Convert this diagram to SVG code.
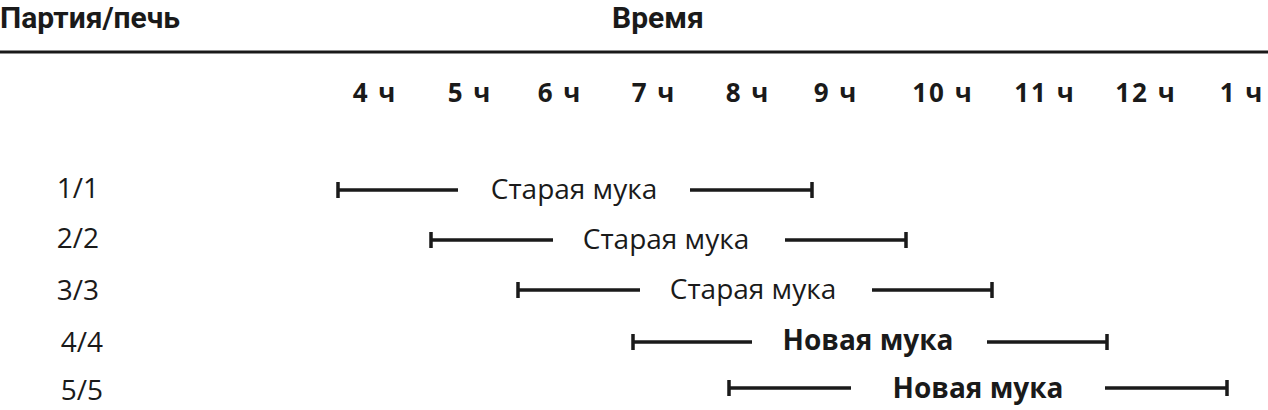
<svg xmlns="http://www.w3.org/2000/svg" width="1268" height="410" viewBox="0 0 1268 410">
<style>
text{font-family:"Open Sans","Noto Sans",sans-serif;fill:#1a1a1a}
.h{font-family:Roboto,"Liberation Sans",sans-serif;font-weight:bold;font-size:30px}
.t{font-weight:bold;font-size:26px;text-anchor:middle;letter-spacing:2px}
.r{font-size:28px;text-anchor:middle}
.l{font-size:28px;text-anchor:middle}
.b{font-size:28px;text-anchor:middle;font-weight:bold}
.bar{stroke:#1a1a1a;stroke-width:3.5;fill:none}
</style>
<rect width="1268" height="410" fill="#fff"/>
<text class="h" x="0" y="28">Партия/печь</text>
<text class="h" x="658" y="28" text-anchor="middle">Время</text>
<line x1="0" y1="52" x2="1268" y2="52" stroke="#1a1a1a" stroke-width="3"/>
<g id="hours">
<text class="t" x="375" y="102">4 ч</text><text class="t" x="470" y="102">5 ч</text><text class="t" x="560" y="102">6 ч</text><text class="t" x="654" y="102">7 ч</text><text class="t" x="748" y="102">8 ч</text><text class="t" x="836" y="102">9 ч</text><text class="t" x="943" y="102">10 ч</text><text class="t" x="1045" y="102">11 ч</text><text class="t" x="1146" y="102">12 ч</text><text class="t" x="1242" y="102">1 ч</text>
</g>
<g id="rowlabels">
<text class="r" x="78" y="198">1/1</text><text class="r" x="78" y="248">2/2</text><text class="r" x="78" y="300">3/3</text><text class="r" x="82" y="352">4/4</text><text class="r" x="82" y="400">5/5</text>
</g>
<g id="connectors" class="bar">
<path d="M338 190H458M690 190H812M338 182V198M812 182V198"/>
<path d="M431 240H553M785 240H906M431 232V248M906 232V248"/>
<path d="M518 290H640M872 290H992M518 282V298M992 282V298"/>
<path d="M633 342H752M987 342H1107M633 334V350M1107 334V350"/>
<path d="M729 388H851M1105 388H1227M729 380V396M1227 380V396"/>
</g>
<g id="n1"><text class="l" x="574" y="199">Старая мука</text></g>
<g id="n2"><text class="l" x="666" y="249">Старая мука</text></g>
<g id="n3"><text class="l" x="753" y="299">Старая мука</text></g>
<g id="n4"><text class="b" x="868" y="350">Новая мука</text></g>
<g id="n5"><text class="b" x="978" y="398">Новая мука</text></g>
</svg>
